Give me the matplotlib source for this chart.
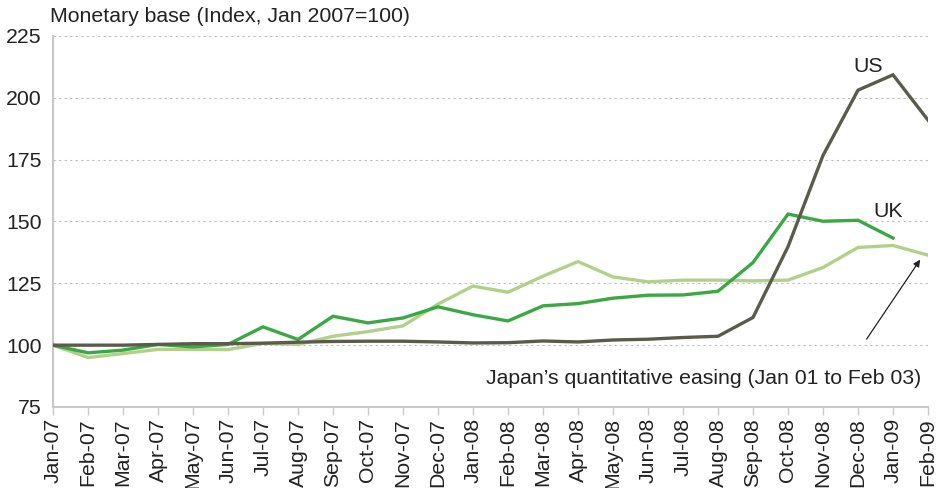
import numpy as np
import matplotlib.pyplot as plt

plt.rcParams['font.family'] = ['Liberation Sans', 'DejaVu Sans']

months = ['Jan-07', 'Feb-07', 'Mar-07', 'Apr-07', 'May-07', 'Jun-07', 'Jul-07',
          'Aug-07', 'Sep-07', 'Oct-07', 'Nov-07', 'Dec-07', 'Jan-08', 'Feb-08',
          'Mar-08', 'Apr-08', 'May-08', 'Jun-08', 'Jul-08', 'Aug-08', 'Sep-08',
          'Oct-08', 'Nov-08', 'Dec-08', 'Jan-09', 'Feb-09']

us = [100, 100, 100, 100.3, 100.6, 100.6, 100.8, 101.2, 101.5, 101.6, 101.6,
      101.3, 100.9, 101.0, 101.7, 101.3, 102.1, 102.4, 103.1, 103.6, 111.2,
      139.8, 176.7, 203.1, 209.3, 191.0]
uk = [100, 96.9, 98.0, 100.3, 99.3, 100.3, 107.4, 102.3, 111.7, 109.0, 111.0,
      115.5, 112.3, 109.8, 115.9, 116.8, 119.0, 120.2, 120.3, 121.8, 133.4,
      153.0, 150.1, 150.5, 143.3]
japan = [100, 95.0, 96.6, 98.3, 98.3, 98.2, 100.7, 100.3, 103.6, 105.5, 107.8,
         116.6, 123.9, 121.4, 127.9, 133.8, 127.6, 125.6, 126.3, 126.3, 126.0,
         126.3, 131.4, 139.5, 140.3, 136.4]

y_ticks = [75, 100, 125, 150, 175, 200, 225]

fs = 15.3
fig = plt.figure(figsize=(9.4, 4.88), dpi=100)
ax = fig.add_axes([53 / 940, 1 - 407 / 488, 875 / 940, 371 / 488])

x = np.arange(len(months))
ax.plot(x, japan, color='#b3d08a', lw=2.4, solid_joinstyle='miter', zorder=3)
ax.plot(x[:len(uk)], uk, color='#3aa843', lw=2.4, solid_joinstyle='miter', zorder=4)
ax.plot(x, us, color='#5b5b4b', lw=2.4, solid_joinstyle='miter', zorder=5)

ax.set_xlim(0, len(months) - 1)
ax.set_ylim(75, 225)
ax.set_xticks(x)
ax.set_xticklabels(months, rotation=90, fontsize=fs, color='#222222')
ax.set_yticks(y_ticks)
ax.set_yticklabels([str(v) for v in y_ticks], fontsize=fs, color='#222222')
ax.tick_params(axis='x', length=6, width=1, color='#c8c8c8', pad=2)
ax.tick_params(axis='y', length=0, pad=8)

for v in y_ticks[1:]:
    ax.axhline(v, color='#bbbbbb', lw=0.8, ls=(0, (2, 3)), zorder=1)

for s in ['top', 'right']:
    ax.spines[s].set_visible(False)
for s in ['left', 'bottom']:
    ax.spines[s].set_color('#c8c8c8')
    ax.spines[s].set_linewidth(1.5)

fig.text(50 / 940, 1 - 17 / 488, 'Monetary base (Index, Jan 2007=100)',
         fontsize=fs, color='#222222', ha='left', va='center')

ax.text(23.3, 209, 'US', fontsize=fs, color='#222222', ha='center', va='bottom')
ax.text(23.85, 150, 'UK', fontsize=fs, color='#222222', ha='center', va='bottom')
ax.text(24.8, 86.5, 'Japan\u2019s quantitative easing (Jan 01 to Feb 03)',
        fontsize=fs, color='#222222', ha='right', va='center')
ax.annotate('', xy=(24.82, 135.5), xytext=(23.2, 101.5),
            arrowprops=dict(arrowstyle='-|>', color='#222222', lw=0.9,
                            mutation_scale=10))

fig.savefig('out.png', dpi=100)
